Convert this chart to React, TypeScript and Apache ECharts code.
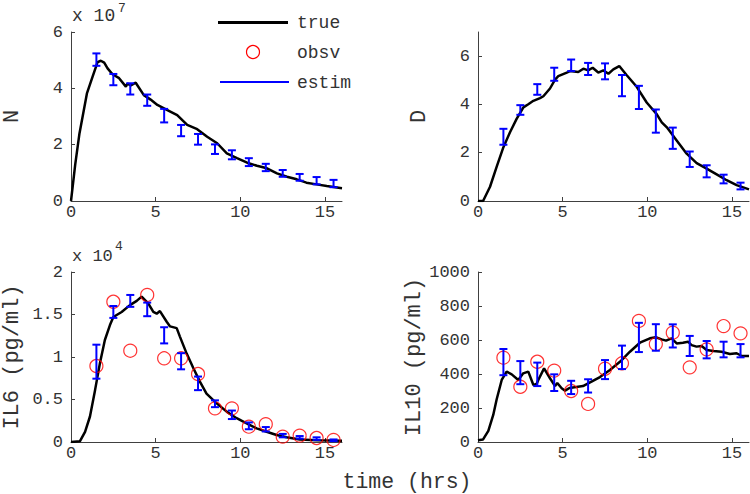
import React, { useEffect, useRef } from "react";
import * as echarts from "echarts";

// ---------- data ----------
// time points of the estimates / observations (hrs)
const estT = [1.5, 2.5, 3.5, 4.5, 5.5, 6.5, 7.5, 8.5, 9.5, 10.5, 11.5, 12.5, 13.5, 14.5, 15.5];

// N (x 10^7)
const nTrueT = [0, 0.25, 0.5, 0.94, 1.27, 1.57, 1.76, 1.96, 2.16, 2.45, 2.84, 3.24, 3.33, 3.53, 3.82, 4.3, 4.7, 5.1, 5.69, 6.27, 6.86, 7.45, 8.04, 8.63, 9.2, 9.8, 10.4, 10.98, 11.57, 12.16, 12.75, 13.33, 13.9, 14.5, 15.1, 16];
const nTrueV = [0, 1.3, 2.4, 3.82, 4.41, 4.93, 4.98, 4.91, 4.71, 4.5, 4.36, 4.06, 4.17, 4.1, 4.2, 3.76, 3.6, 3.41, 3.23, 3.05, 2.7, 2.55, 2.28, 2.05, 1.69, 1.52, 1.36, 1.25, 1.16, 0.98, 0.86, 0.77, 0.65, 0.59, 0.53, 0.45];
const nEstMean = [5.02, 4.31, 3.98, 3.58, 3.03, 2.5, 2.19, 1.84, 1.64, 1.38, 1.19, 0.98, 0.84, 0.72, 0.62];
const nEstErr = [0.22, 0.2, 0.2, 0.2, 0.24, 0.2, 0.19, 0.17, 0.16, 0.14, 0.13, 0.12, 0.12, 0.13, 0.13];

// D
const dTrueT = [0, 0.3, 0.71, 1.1, 1.5, 1.89, 2.28, 2.68, 2.97, 3.27, 3.66, 3.86, 4.25, 4.55, 4.74, 5.24, 5.43, 5.92, 6.22, 6.5, 6.77, 7.1, 7.4, 7.7, 7.99, 8.34, 8.77, 9.37, 9.96, 10.55, 10.85, 11.15, 11.73, 12.32, 12.91, 13.5, 14.09, 14.68, 15.27, 16];
const dTrueV = [0, 0, 0.59, 1.41, 2.23, 2.85, 3.4, 3.88, 4.01, 4.15, 4.26, 4.34, 4.66, 5.03, 5.17, 5.32, 5.38, 5.34, 5.48, 5.41, 5.52, 5.32, 5.41, 5.27, 5.45, 5.59, 5.22, 4.73, 4.08, 3.6, 3.26, 3.05, 2.51, 1.96, 1.57, 1.34, 1.1, 0.86, 0.66, 0.48];
const dEstMean = [2.66, 3.77, 4.62, 5.25, 5.62, 5.47, 5.37, 4.78, 4.29, 3.31, 2.6, 1.73, 1.23, 0.91, 0.62];
const dEstErr = [0.33, 0.2, 0.22, 0.27, 0.24, 0.25, 0.33, 0.44, 0.48, 0.48, 0.44, 0.32, 0.25, 0.18, 0.14];

// IL6 (x 10^4 pg/ml)
const il6TrueT = [0, 0.53, 0.83, 1.12, 1.42, 1.71, 2.0, 2.3, 2.5, 2.99, 3.48, 3.88, 4.17, 4.56, 4.86, 5.06, 5.25, 5.65, 5.85, 6.24, 6.43, 6.83, 7.22, 7.61, 8.0, 8.6, 9.19, 9.78, 10.37, 10.96, 11.55, 12.14, 12.73, 13.5, 14.5, 16];
const il6TrueV = [0, 0.01, 0.12, 0.3, 0.61, 0.93, 1.2, 1.376, 1.47, 1.53, 1.61, 1.66, 1.71, 1.63, 1.53, 1.51, 1.54, 1.415, 1.36, 1.34, 1.24, 1.04, 0.87, 0.71, 0.57, 0.455, 0.357, 0.28, 0.22, 0.16, 0.12, 0.082, 0.055, 0.03, 0.02, 0.015];
const il6EstMean = [0.945, 1.53, 1.66, 1.56, 1.255, 0.95, 0.69, 0.45, 0.32, 0.19, 0.15, 0.075, 0.055, 0.04, 0.02];
const il6EstErr = [0.2, 0.07, 0.07, 0.08, 0.095, 0.095, 0.08, 0.04, 0.05, 0.04, 0.026, 0.02, 0.015, 0.015, 0.01];
const il6Obs = [0.894, 1.65, 1.074, 1.73, 0.985, 0.985, 0.8, 0.396, 0.396, 0.18, 0.21, 0.063, 0.075, 0.047, 0.024];

// IL10 (pg/ml)
const il10TrueT = [0, 0.3, 0.61, 0.9, 1.1, 1.4, 1.69, 1.99, 2.38, 2.67, 2.97, 3.27, 3.46, 3.56, 3.9, 4.25, 4.55, 4.68, 4.94, 5.14, 5.4, 5.8, 6.2, 6.7, 7.2, 7.79, 8.38, 8.97, 9.56, 10.15, 10.5, 10.84, 11.1, 11.43, 11.73, 12.1, 12.4, 12.61, 12.9, 13.2, 13.5, 13.9, 14.38, 14.87, 15.27, 15.57, 16];
const il10TrueV = [10, 15, 65, 159, 250, 365, 414, 398, 365, 404, 414, 335, 341, 365, 433, 375, 329, 347, 316, 302, 318, 323, 329, 355, 382, 424, 472, 531, 584, 610, 616, 604, 596, 610, 580, 584, 590, 570, 561, 565, 541, 535, 531, 518, 522, 506, 506];
const il10EstMean = [470, 408, 398, 349, 321, 330, 426, 498, 615, 615, 624, 565, 543, 544, 537];
const il10EstErr = [77, 68, 69, 49, 39, 39, 56, 69, 86, 78, 68, 59, 51, 46, 39];
const il10Obs = [496, 325, 472, 420, 300, 224, 431, 463, 712, 576, 643, 439, 545, 682, 639];

// ---------- helpers ----------
const FONT = "'Liberation Mono', 'Courier New', monospace";
const AXIS_COLOR = "#404040";
const TEXT_COLOR = "#333333";
const BLUE = "#0000FF";
const RED = "#FF0000";

const pairs = (t: number[], v: number[]) => t.map((x, i) => [x, v[i]]);
const bars = (m: number[], e: number[]) => estT.map((x, i) => [x, m[i], e[i]]);

function renderErrorBar(params: any, api: any) {
  const x = api.value(0);
  const y = api.value(1);
  const e = api.value(2);
  const top = api.coord([x, y + e]);
  const bot = api.coord([x, y - e]);
  const hw = 4;
  const style = { stroke: BLUE, lineWidth: 2 };
  return {
    type: "group",
    children: [
      { type: "line", shape: { x1: top[0], y1: top[1], x2: bot[0], y2: bot[1] }, style },
      { type: "line", shape: { x1: top[0] - hw, y1: top[1], x2: top[0] + hw, y2: top[1] }, style },
      { type: "line", shape: { x1: bot[0] - hw, y1: bot[1], x2: bot[0] + hw, y2: bot[1] }, style },
    ],
  };
}

function xAxis(gridIndex: number) {
  return {
    type: "value",
    gridIndex,
    min: 0,
    max: 16,
    interval: 5,
    axisLine: { show: true, onZero: false, lineStyle: { color: AXIS_COLOR, width: 1 } },
    axisTick: { show: true, inside: true, length: 4, lineStyle: { color: AXIS_COLOR }, customValues: [0, 5, 10, 15] },
    axisLabel: {
      show: true,
      margin: 3,
      color: TEXT_COLOR,
      fontFamily: FONT,
      fontSize: 17,
      customValues: [0, 5, 10, 15],
    },
    splitLine: { show: false },
  };
}

function yAxis(gridIndex: number, max: number, interval: number, ticks: number[], name: string) {
  return {
    type: "value",
    gridIndex,
    min: 0,
    max,
    interval,
    name,
    nameLocation: "middle",
    nameRotate: 90,
    nameGap: 48,
    nameTextStyle: { fontFamily: FONT, fontSize: 22, color: TEXT_COLOR },
    axisLine: { show: true, onZero: false, lineStyle: { color: AXIS_COLOR, width: 1 } },
    axisTick: { show: true, inside: true, length: 4, lineStyle: { color: AXIS_COLOR }, customValues: ticks },
    axisLabel: {
      show: true,
      margin: 8,
      color: TEXT_COLOR,
      fontFamily: FONT,
      fontSize: 17,
      customValues: ticks,
      formatter: (v: number) => String(v),
    },
    splitLine: { show: false },
  };
}

function trueSeries(idx: number, data: number[][]) {
  return {
    type: "line",
    name: "true",
    xAxisIndex: idx,
    yAxisIndex: idx,
    data,
    showSymbol: false,
    symbol: "none",
    lineStyle: { color: "#000000", width: 2.5 },
    z: 2,
  };
}

function obsSeries(idx: number, vals: number[]) {
  return {
    type: "scatter",
    name: "obsv",
    xAxisIndex: idx,
    yAxisIndex: idx,
    data: estT.map((t, i) => [t, vals[i]]),
    symbol: "circle",
    symbolSize: 13,
    itemStyle: { color: "rgba(0,0,0,0)", borderColor: RED, borderWidth: 1.2 },
    z: 3,
  };
}

function estSeries(idx: number, data: number[][]) {
  return {
    type: "custom",
    name: "estim",
    xAxisIndex: idx,
    yAxisIndex: idx,
    data,
    encode: { x: 0, y: 1 },
    renderItem: renderErrorBar,
    z: 4,
  };
}

export default function App() {
  const ref = useRef<HTMLDivElement>(null);

  useEffect(() => {
    if (!ref.current) return;
    const chart = echarts.init(ref.current, undefined, { renderer: "svg" });
    const textStyleBase = { fontFamily: FONT, fill: TEXT_COLOR };
    chart.setOption({
      animation: false,
      backgroundColor: "#ffffff",
      grid: [
        { left: 70, top: 32, width: 272, height: 169 },
        { left: 478, top: 32, width: 271, height: 169 },
        { left: 71, top: 272, width: 271, height: 170 },
        { left: 478, top: 272, width: 271, height: 170 },
      ],
      xAxis: [xAxis(0), xAxis(1), xAxis(2), xAxis(3)],
      yAxis: [
        yAxis(0, 6, 2, [0, 2, 4, 6], "N"),
        yAxis(1, 7, 2, [0, 2, 4, 6], "D"),
        yAxis(2, 2, 0.5, [0, 0.5, 1, 1.5, 2], "IL6 (pg/ml)"),
        yAxis(3, 1000, 200, [0, 200, 400, 600, 800, 1000], "IL10 (pg/ml)"),
      ],
      series: [
        trueSeries(0, pairs(nTrueT, nTrueV)),
        estSeries(0, bars(nEstMean, nEstErr)),
        trueSeries(1, pairs(dTrueT, dTrueV)),
        estSeries(1, bars(dEstMean, dEstErr)),
        trueSeries(2, pairs(il6TrueT, il6TrueV)),
        obsSeries(2, il6Obs),
        estSeries(2, bars(il6EstMean, il6EstErr)),
        trueSeries(3, pairs(il10TrueT, il10TrueV)),
        obsSeries(3, il10Obs),
        estSeries(3, bars(il10EstMean, il10EstErr)),
      ],
      graphic: [
        // multipliers
        { type: "text", x: 72, y: 16, style: { ...textStyleBase, text: "x 10", fontSize: 18, verticalAlign: "middle" } },
        { type: "text", x: 118, y: 8, style: { ...textStyleBase, text: "7", fontSize: 13, verticalAlign: "middle" } },
        { type: "text", x: 72, y: 256, style: { ...textStyleBase, text: "x 10", fontSize: 17, verticalAlign: "middle" } },
        { type: "text", x: 115, y: 246, style: { ...textStyleBase, text: "4", fontSize: 13, verticalAlign: "middle" } },
        // legend
        { type: "line", shape: { x1: 218, y1: 22.5, x2: 288, y2: 22.5 }, style: { stroke: "#000000", lineWidth: 3 } },
        { type: "circle", shape: { cx: 253, cy: 52, r: 6.5 }, style: { stroke: RED, fill: "none", lineWidth: 1.2 } },
        { type: "line", shape: { x1: 220, y1: 82, x2: 289, y2: 82 }, style: { stroke: BLUE, lineWidth: 2 } },
        { type: "text", x: 297, y: 23, style: { ...textStyleBase, text: "true", fontSize: 18, verticalAlign: "middle" } },
        { type: "text", x: 297, y: 53, style: { ...textStyleBase, text: "obsv", fontSize: 18, verticalAlign: "middle" } },
        { type: "text", x: 297, y: 83, style: { ...textStyleBase, text: "estim", fontSize: 18, verticalAlign: "middle" } },
        // x label
        {
          type: "text",
          x: 407,
          y: 482,
          style: { ...textStyleBase, text: "time (hrs)", fontSize: 21.5, align: "center", verticalAlign: "middle" },
        },
      ],
    });
    return () => chart.dispose();
  }, []);

  return (
    <div
      ref={ref}
      style={{ position: "absolute", left: 0, top: 0, width: 750, height: 494, background: "#fff" }}
    />
  );
}
